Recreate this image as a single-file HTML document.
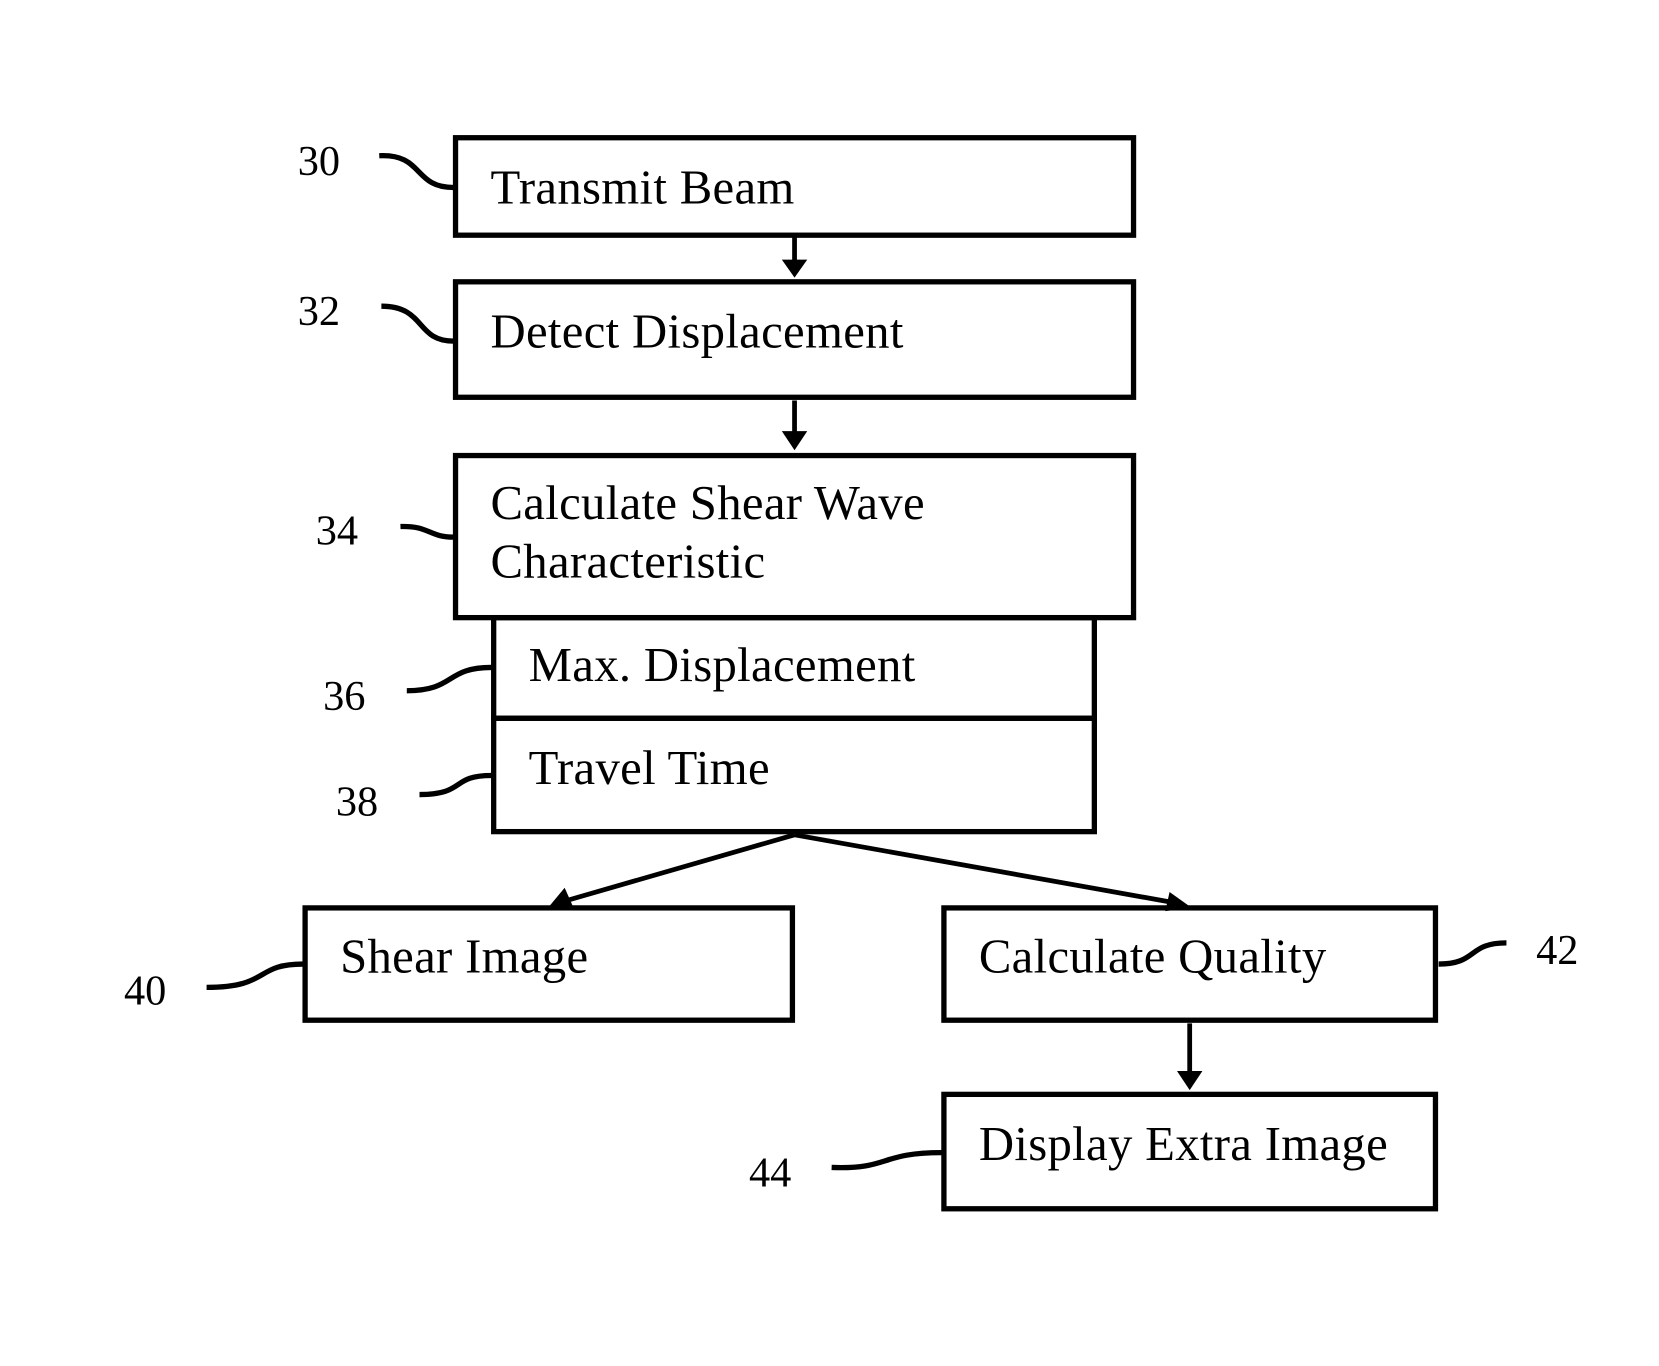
<!DOCTYPE html>
<html><head><meta charset="utf-8"><style>
html,body{margin:0;padding:0;background:#fff;}
svg{display:block;}
text{font-family:"Liberation Serif",serif;fill:#000;}
.t{font-size:46px;letter-spacing:0.3px;}
.n{font-size:40px;}
</style></head><body>
<svg width="1659" height="1366" viewBox="0 0 1566 1289.4" xmlns="http://www.w3.org/2000/svg">
<g fill="none" stroke="#000" stroke-width="5">
<rect x="430" y="130" width="640" height="92"/>
<rect x="430" y="266" width="640" height="109"/>
<rect x="430" y="430" width="640" height="153"/>
<rect x="466" y="583" width="567" height="95"/>
<rect x="466" y="678" width="567" height="107"/>
<rect x="288" y="857" width="460" height="106"/>
<rect x="891" y="857" width="464" height="106"/>
<rect x="891" y="1033" width="464" height="108"/>
</g>
<g stroke="#000" stroke-width="4.5" fill="none">
<line x1="750" y1="224" x2="750" y2="250"/>
<line x1="750" y1="378" x2="750" y2="412"/>
<line x1="750" y1="788" x2="535" y2="850"/>
<line x1="750" y1="788" x2="1108" y2="852"/>
<line x1="1123" y1="966" x2="1123" y2="1014"/>
</g>
<g fill="#000">
<path d="M738,245 L762,245 L750,262 z"/>
<path d="M738,407 L762,407 L750,425 z"/>
<path d="M1111,1011 L1135,1011 L1123,1029 z"/>
<path d="M518,856 L533,838 L541,856 z"/>
<path d="M1125,857 L1104,842 L1100,860 z"/>
</g>
<g stroke="#000" stroke-width="5" fill="none">
<path d="M358,147 C400,145 390,177 428,177"/>
<path d="M360,289 C402,289 392,322 428,322"/>
<path d="M378,497 C405,496 405,507 428,507"/>
<path d="M384,652 C430,652 420,630 464,630"/>
<path d="M396,750 C440,750 425,732 464,732"/>
<path d="M195,932 C255,932 240,910 286,910"/>
<path d="M1358,910 C1395,910 1385,890 1422,890"/>
<path d="M785,1102 C840,1104 830,1088 889,1088"/>
</g>
<text class="t" x="463" y="192">Transmit Beam</text>
<text class="t" x="463" y="328">Detect Displacement</text>
<text class="t" x="463" y="490">Calculate Shear Wave</text>
<text class="t" x="463" y="545">Characteristic</text>
<text class="t" x="499" y="643">Max. Displacement</text>
<text class="t" x="499" y="740">Travel Time</text>
<text class="t" x="321" y="918">Shear Image</text>
<text class="t" x="924" y="918">Calculate Quality</text>
<text class="t" x="924" y="1095">Display Extra Image</text>
<text class="n" x="281" y="165">30</text>
<text class="n" x="281" y="307">32</text>
<text class="n" x="298" y="514">34</text>
<text class="n" x="305" y="670">36</text>
<text class="n" x="317" y="770">38</text>
<text class="n" x="117" y="948">40</text>
<text class="n" x="1450" y="910">42</text>
<text class="n" x="707" y="1120">44</text>
</svg>
</body></html>
